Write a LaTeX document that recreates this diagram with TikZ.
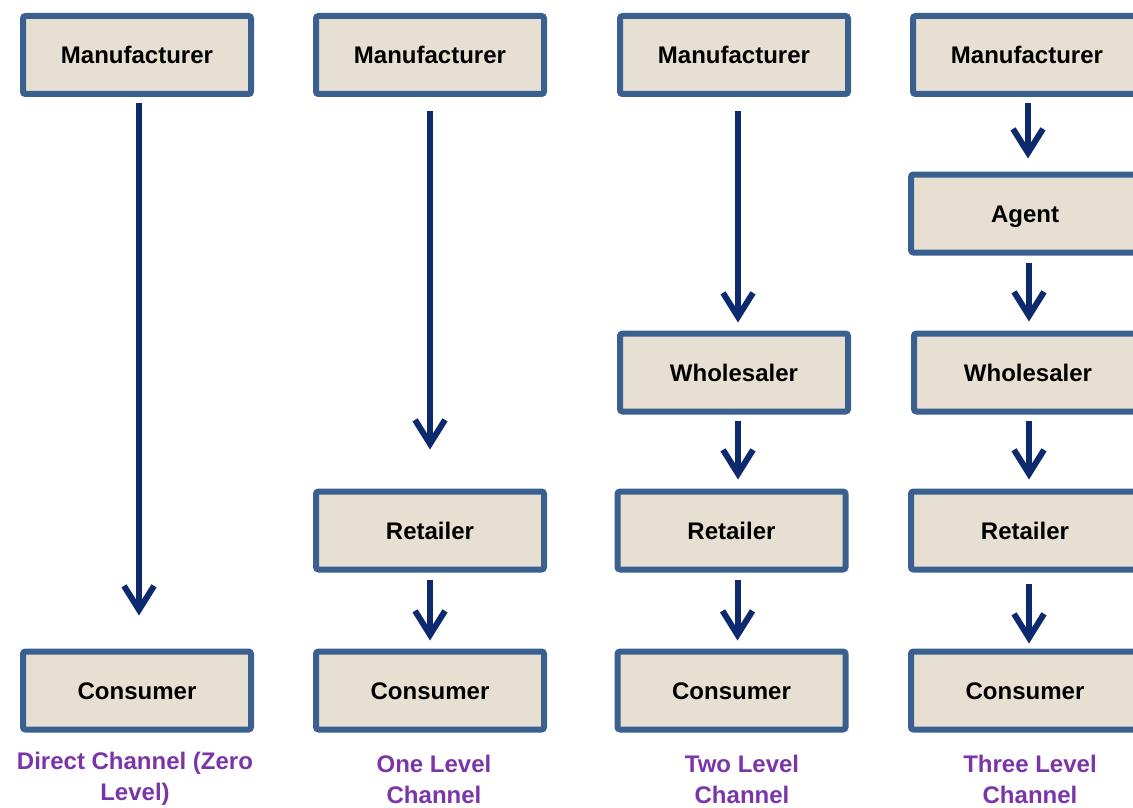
\documentclass[tikz,border=0pt]{standalone}
\usepackage{fontspec}
\setmainfont{Liberation Sans}
\usetikzlibrary{arrows.meta,calc}
\definecolor{boxline}{HTML}{3A6090}
\definecolor{boxfill}{HTML}{E6DFD2}
\definecolor{arrowblue}{HTML}{0D2A6E}
\definecolor{labelpurple}{HTML}{7A35A8}
\begin{document}
\begin{tikzpicture}[x=1pt,y=-1pt,
  stage/.style={draw=boxline, fill=boxfill, line width=6pt, rounded corners=2.5pt,
    minimum width=228pt, minimum height=78pt, inner sep=0pt,
    text height=22pt, text depth=5pt,
    font=\fontsize{24}{28}\selectfont\bfseries},
  flow/.style={draw=arrowblue, line width=6pt,
    -{Straight Barb[length=24pt,width=30pt,line width=6pt]},
    shorten <=7pt, shorten >=8pt},
  caption/.style={text=labelpurple, align=center, inner sep=0pt,
    font=\fontsize{24}{31}\selectfont\bfseries}]
\useasboundingbox (0,0) rectangle (1133,808);
\clip (0,0) rectangle (1133,808);

% Direct channel
\node[stage] (m1) at (137,55) {Manufacturer};
\node[stage] (c1) at (137,690.5) {Consumer};
% One level
\node[stage] (m2) at (430,55) {Manufacturer};
\node[stage] (r2) at (430,530.5) {Retailer};
\node[stage] (c2) at (430,690.5) {Consumer};
% Two level
\node[stage] (m3) at (734,55) {Manufacturer};
\node[stage] (w3) at (734,372.5) {Wholesaler};
\node[stage] (r3) at (731.5,530.5) {Retailer};
\node[stage] (c3) at (731.5,690.5) {Consumer};
% Three level
\node[stage] (m4) at (1027,55) {Manufacturer};
\node[stage] (a4) at (1025,213.5) {Agent};
\node[stage] (w4) at (1028,372.5) {Wholesaler};
\node[stage] (r4) at (1025,530.5) {Retailer};
\node[stage] (c4) at (1025,690.5) {Consumer};

% Connectors (vertical, slightly right of the box centres)
\draw[flow, shorten <=6pt, shorten >=33pt] ($(m1.south)+(2,0)$) -- ($(m1.south |- c1.north)+(2,0)$);
\draw[flow, shorten <=14pt, shorten >=39pt] (m2.south) -- (m2.south |- r2.north);
\draw[flow] (r2.south) -- (r2.south |- c2.north);
\draw[flow, shorten <=14pt] ($(m3.south)+(4,0)$) -- ($(m3.south |- w3.north)+(4,0)$);
\draw[flow, shorten <=6pt, shorten >=9pt] ($(w3.south)+(4,0)$) -- ($(w3.south |- r3.north)+(4,0)$);
\draw[flow] ($(r3.south)+(6,0)$) -- ($(r3.south |- c3.north)+(6,0)$);
\draw[flow, shorten <=6pt, shorten >=13pt] ($(m4.south)+(1,0)$) -- ($(m4.south |- a4.north)+(1,0)$);
\draw[flow, shorten >=9pt] ($(a4.south)+(4,0)$) -- ($(a4.south |- w4.north)+(4,0)$);
\draw[flow, shorten <=6pt, shorten >=9pt] ($(w4.south)+(1,0)$) -- ($(w4.south |- r4.north)+(1,0)$);
\draw[flow, shorten <=11pt, shorten >=5pt] ($(r4.south)+(4,0)$) -- ($(r4.south |- c4.north)+(4,0)$);

% Channel captions
\node[caption] (l1) at (135,779) {Direct Channel (Zero\\Level)};
\node[caption] (l2) at (434,779) {One Level\\Channel};
\node[caption] (l3) at (742,779) {Two Level\\Channel};
\node[caption] (l4) at (1030,779) {Three Level\\Channel};
\end{tikzpicture}
\end{document}
